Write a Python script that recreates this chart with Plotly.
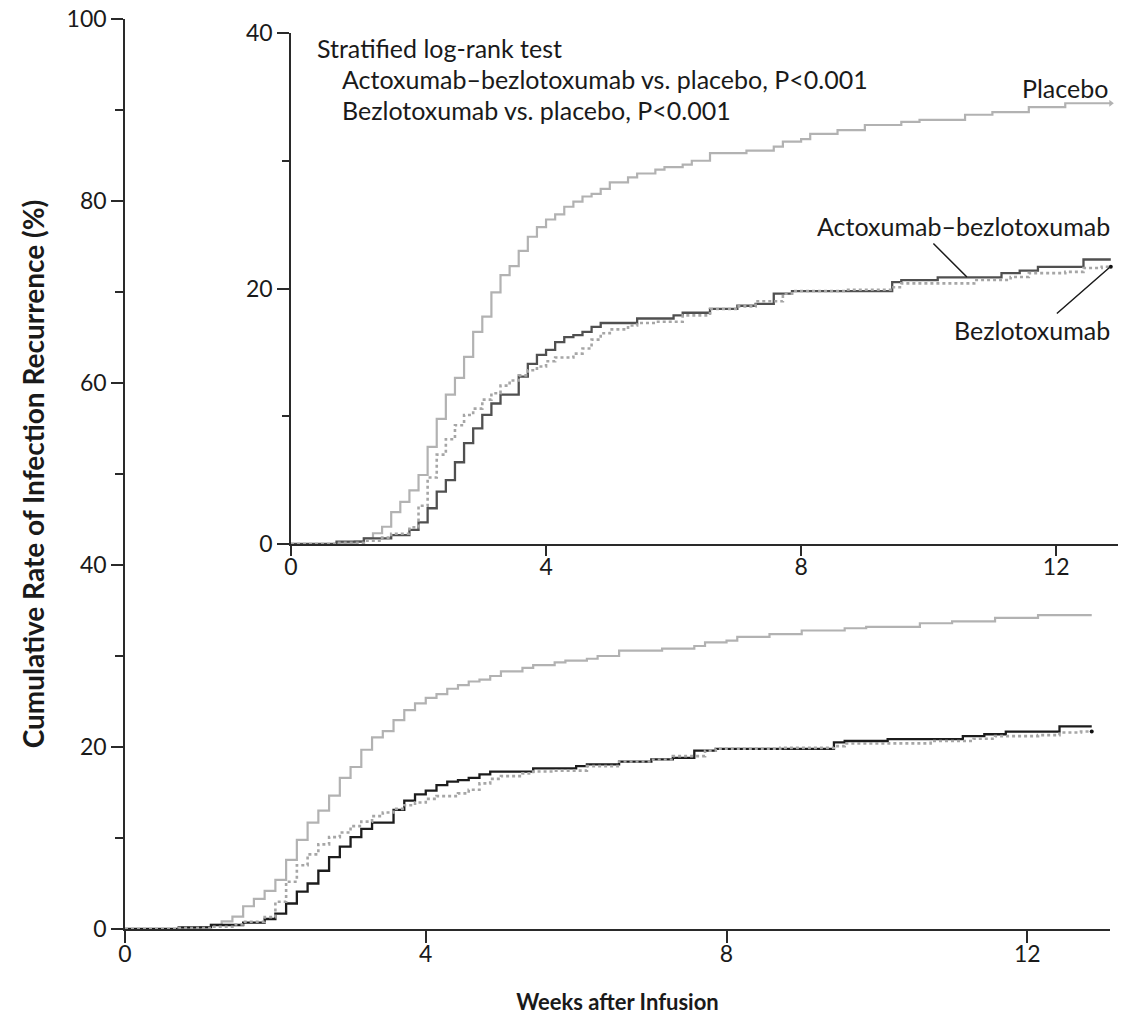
import plotly.graph_objects as go

# ---- data (days after infusion -> cumulative recurrence %) ----
placebo_days = [0, 5, 7, 8, 9, 10, 11, 12, 13, 14, 15, 16, 17, 18, 19, 20, 21, 22, 23, 24, 25, 26, 27, 28, 29, 30,
                31, 32, 33, 34, 35, 37, 38, 40, 41, 43, 44, 46, 50, 53, 54, 56, 57, 60, 63, 67, 69, 74, 77, 81, 85, 90]
placebo_vals = [0, 0.08, 0.2, 0.45, 0.84, 1.35, 2.5, 3.3, 4.2, 5.4, 7.6, 9.8, 11.7, 13.0, 14.65, 16.6, 17.8, 19.7,
                21.05, 21.75, 22.95, 24.05, 24.8, 25.4, 25.8, 26.4, 26.8, 27.2, 27.4, 27.8, 28.3, 28.7, 29.0, 29.3,
                29.5, 29.7, 30.0, 30.6, 30.8, 31.1, 31.5, 31.7, 32.1, 32.4, 32.8, 33.05, 33.2, 33.6, 33.8, 34.2, 34.5, 34.5]

combo_days = [0, 5, 8, 11, 13, 14, 15, 16, 17, 18, 19, 20, 21, 22, 23, 25, 26, 27, 28, 29, 30, 31, 32, 33, 34,
              38, 42, 43, 46, 49, 51, 53, 55, 66, 67, 71, 78, 80, 82, 87, 90]
combo_vals = [0, 0.18, 0.44, 0.7, 1.1, 1.7, 2.8, 4.1, 5.0, 6.4, 7.9, 9.05, 10.1, 11.0, 11.7, 13.1, 14.1, 14.8, 15.2,
              15.8, 16.2, 16.35, 16.6, 17.0, 17.3, 17.65, 17.9, 18.1, 18.4, 18.65, 18.8, 19.6, 19.8, 20.5, 20.66,
              20.87, 21.2, 21.4, 21.7, 22.27, 22.27]

bezlo_days = [0, 5, 8, 10, 11, 13, 14, 15, 16, 17, 18, 19, 20, 21, 22, 23, 24, 25, 26, 27, 28, 29, 31, 32, 33, 34,
              35, 37, 38, 40, 43, 46, 49, 51, 54, 55, 61, 66, 67, 75, 79, 81, 85, 87, 89, 90]
bezlo_vals = [0, 0.1, 0.25, 0.5, 0.8, 1.3, 3.0, 5.2, 7.0, 8.2, 9.3, 10.1, 10.6, 11.3, 11.8, 12.4, 12.8, 13.2, 13.6,
              13.9, 14.3, 14.6, 14.9, 15.3, 16.0, 16.5, 16.8, 17.1, 17.3, 17.4, 17.9, 18.4, 18.6, 19.0, 19.6, 19.8,
              19.9, 20.1, 20.4, 20.66, 20.9, 21.2, 21.3, 21.6, 21.7, 21.7]

x_ticks = [0, 4, 8, 12]
main_y_ticks = [0, 20, 40, 60, 80, 100]
inset_y_ticks = [0, 20, 40]


def weeks(days):
    return [d / 7 for d in days]


FONT = "Lato"
AX = "#2a2a2a"
C_PLACEBO = "#b2b2b2"
C_BEZLO = "#a6a6a6"

fig = go.Figure()

for xa, ya, c_combo in [("x", "y", "#1c1c1c"), ("x2", "y2", "#505050")]:
    fig.add_trace(go.Scatter(x=weeks(placebo_days), y=placebo_vals, mode="lines", line_shape="hv",
                             line=dict(color=C_PLACEBO, width=2.2), xaxis=xa, yaxis=ya, showlegend=False))
    fig.add_trace(go.Scatter(x=weeks(combo_days), y=combo_vals, mode="lines", line_shape="hv",
                             line=dict(color=c_combo, width=2.3), xaxis=xa, yaxis=ya, showlegend=False))
    fig.add_trace(go.Scatter(x=weeks(bezlo_days), y=bezlo_vals, mode="lines", line_shape="hv",
                             line=dict(color=C_BEZLO, width=2.6, dash="3px,3px"), xaxis=xa, yaxis=ya,
                             showlegend=False))
    # end-of-follow-up marks
    fig.add_trace(go.Scatter(x=[weeks(bezlo_days)[-1]], y=[bezlo_vals[-1]], mode="markers",
                             marker=dict(color="#111", size=4), xaxis=xa, yaxis=ya, showlegend=False))
fig.add_trace(go.Scatter(x=[weeks(placebo_days)[-1]], y=[placebo_vals[-1]], mode="markers",
                         marker=dict(color=C_PLACEBO, size=6, symbol="triangle-right"),
                         xaxis="x2", yaxis="y2", showlegend=False))

# layout geometry: plot area x 125..1118, y 19..929
L, R, T, B = 125, 1118, 19, 929
W, H = R - L, B - T


def px(x):
    return (x - L) / W


def py(y):
    return (B - y) / H


axis_common = dict(showgrid=False, zeroline=False, showline=True, linecolor=AX, linewidth=1.5,
                   ticks="outside", tickcolor=AX, tickwidth=1.5, automargin=False,
                   tickfont=dict(family=FONT, size=23, color="#1a1a1a"))

fig.update_layout(
    width=1121, height=1019,
    margin=dict(l=L, r=1121 - R, t=T, b=1019 - B),
    paper_bgcolor="white", plot_bgcolor="white",
    font=dict(family=FONT, color="#1a1a1a"),
    hovermode=False,
    xaxis=dict(**axis_common, domain=[0, px(1110)], range=[0, 13.1], tickvals=x_ticks, ticklen=12,
               ticklabelstandoff=-8,
               title=dict(text="<b>Weeks after Infusion</b>", font=dict(family=FONT, size=22), standoff=28)),
    yaxis=dict(**axis_common, domain=[0, 1], range=[0, 100], tickvals=main_y_ticks, ticklen=12,
               minor=dict(dtick=10, tick0=0, ticklen=8, ticks="outside", tickcolor=AX, tickwidth=1.5),
               title=dict(text="<b>Cumulative Rate of Infection Recurrence (%)</b>",
                          font=dict(family=FONT, size=28), standoff=14)),
    xaxis2=dict(**axis_common, domain=[px(291), 1.0], range=[0, 12.97], tickvals=x_ticks, ticklen=10,
                ticklabelstandoff=-8, anchor="y2"),
    yaxis2=dict(**axis_common, domain=[py(544), py(33)], range=[0, 40], tickvals=inset_y_ticks, ticklen=12,
                minor=dict(dtick=10, tick0=0, ticklen=7, ticks="outside", tickcolor=AX, tickwidth=1.5),
                anchor="x2"),
)

ann_font = dict(family=FONT, size=25, color="#1a1a1a")
texts = [
    ("Stratified log-rank test", 315, 48, "left"),
    ("Actoxumab\u2013bezlotoxumab vs. placebo, P<0.001", 340, 79, "left"),
    ("Bezlotoxumab vs. placebo, P<0.001", 340, 110, "left"),
    ("Placebo", 1110, 88, "right"),
    ("Actoxumab\u2013bezlotoxumab", 1112, 226, "right"),
    ("Bezlotoxumab", 1112, 330, "right"),
]
for t, x, y, anc in texts:
    fig.add_annotation(text=t, x=px(x), y=py(y), xref="paper", yref="paper", xanchor=anc, yanchor="middle",
                       showarrow=False, font=ann_font)

# leader lines from labels to curves
fig.add_annotation(x=10.6, y=20.9, xref="x2", yref="y2", text="", showarrow=True, arrowhead=0,
                   arrowwidth=1.5, arrowcolor="#1a1a1a", ax=-35, ay=-35)
fig.add_annotation(x=12.85, y=21.7, xref="x2", yref="y2", text="", showarrow=True, arrowhead=0,
                   arrowwidth=1.5, arrowcolor="#1a1a1a", ax=-55, ay=48)

fig.write_html("out.html", config={"displayModeBar": False},
               post_script="document.body.style.margin='0';document.body.style.overflow='hidden';")
